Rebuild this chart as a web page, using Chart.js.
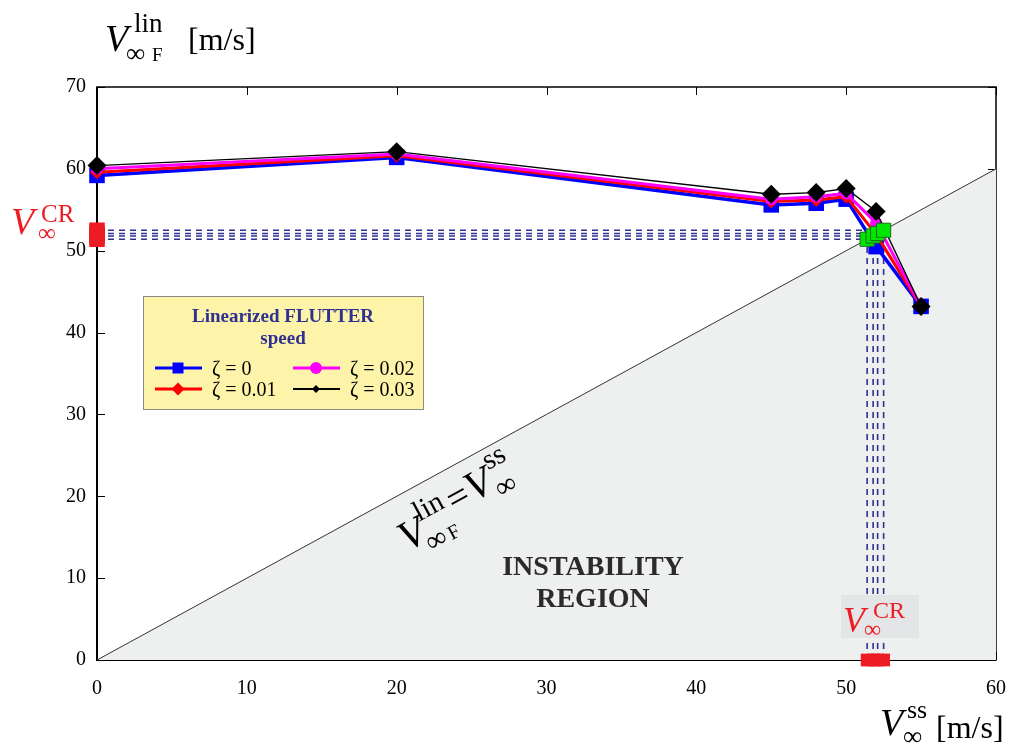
<!DOCTYPE html>
<html>
<head>
<meta charset="utf-8">
<script src="https://cdn.jsdelivr.net/npm/chart.js@4/dist/chart.umd.min.js"></script>
<style>
  html, body { margin: 0; padding: 0; background: #fff; }
  #wrap { width: 1010px; height: 751px; position: relative; }
</style>
</head>
<body>
<div id="wrap"><canvas id="chart1" width="1010" height="751"></canvas></div>
<script>
// valori
const speedSS = [0, 20, 45, 48, 50, 52, 55];
const zeta0 = [59.2, 61.4, 55.6, 55.8, 56.3, 50.5, 43.2];
const zeta1 = [59.6, 61.6, 56.0, 56.2, 56.6, 52.0, 43.2];
const zeta2 = [60.0, 61.8, 56.3, 56.6, 57.0, 53.4, 43.2];
const zeta3 = [60.4, 62.1, 56.9, 57.1, 57.6, 54.8, 43.2];
const vCrit = [51.4, 51.8, 52.1, 52.5];
const zetaLabels = ['ζ = 0', 'ζ = 0.01', 'ζ = 0.02', 'ζ = 0.03'];
const xTicks = [0, 10, 20, 30, 40, 50, 60];
const yTicks = [0, 10, 20, 30, 40, 50, 60, 70];

const SERIF = "'Liberation Serif', 'DejaVu Serif', serif";
const RED = '#ed1c24';
const NAVY = '#2e3192';

function pts(ys) {
    return speedSS.map((x, i) => ({ x: x, y: ys[i] }));
}

function curve(label, ys, color, width, style, radius, order) {
    return {
        label: label,
        data: pts(ys),
        borderColor: color,
        backgroundColor: color,
        borderWidth: width,
        pointStyle: style,
        pointRadius: radius,
        pointBorderWidth: 0,
        pointBackgroundColor: color,
        clip: false,
        order: order
    };
}

const datasets = [];

// regione di instabilita (sotto la bisettrice)
datasets.push({
    label: 'diag',
    data: [{ x: 0, y: 0 }, { x: 60, y: 60 }],
    borderColor: '#333',
    borderWidth: 1,
    backgroundColor: '#eeefef',
    fill: 'origin',
    pointRadius: 0,
    order: 20
});

// linee tratteggiate verso gli assi
vCrit.forEach(c => {
    datasets.push({
        label: 'h' + c,
        data: [{ x: 0, y: c }, { x: c, y: c }],
        borderColor: NAVY, borderWidth: 1.6, borderDash: [6, 5],
        pointRadius: 0, order: 10
    });
    datasets.push({
        label: 'v' + c,
        data: [{ x: c, y: 0 }, { x: c, y: c }],
        borderColor: NAVY, borderWidth: 1.6, borderDash: [6, 5],
        pointRadius: 0, order: 10
    });
});

datasets.push(curve(zetaLabels[0], zeta0, '#0000ff', 3.5, 'rect', 11, 4));
datasets.push(curve(zetaLabels[1], zeta1, '#ff0000', 3, 'rectRot', 7, 3));
datasets.push(curve(zetaLabels[2], zeta2, '#ff00ff', 3, 'circle', 6, 2));
datasets.push(curve(zetaLabels[3], zeta3, '#000000', 1.3, 'rectRot', 9.5, 1));

// punti critici sulla bisettrice
datasets.push({
    label: 'crit',
    data: vCrit.map(c => ({ x: c, y: c })),
    showLine: false,
    pointStyle: 'rect', pointRadius: 10,
    pointBackgroundColor: '#00e600', pointBorderColor: '#1d6b1d', pointBorderWidth: 1,
    clip: false, order: 0
});
// quadrati rossi sugli assi
datasets.push({
    label: 'critY',
    data: vCrit.map(c => ({ x: 0, y: c })),
    showLine: false,
    pointStyle: 'rect', pointRadius: 11, pointBorderWidth: 0,
    pointBackgroundColor: RED, clip: false, order: 0
});
datasets.push({
    label: 'critX',
    data: vCrit.map(c => ({ x: c, y: 0 })),
    showLine: false,
    pointStyle: 'rect', pointRadius: 9, pointBorderWidth: 0,
    pointBackgroundColor: RED, clip: false, order: 0
});

function txt(ctx, s, x, y, size, color, style) {
    ctx.font = (style || '') + ' ' + size + 'px ' + SERIF;
    ctx.fillStyle = color || '#000';
    ctx.fillText(s, x, y);
}

const framePlugin = {
    id: 'frame',
    beforeDatasetsDraw(chart) {
        const ctx = chart.ctx, a = chart.chartArea;
        const xs = chart.scales.x, ys = chart.scales.y;
        ctx.save();
        ctx.strokeStyle = '#000';
        ctx.lineWidth = 1;
        ctx.beginPath();
        xTicks.forEach(t => {
            const px = Math.round(xs.getPixelForValue(t)) + 0.5;
            ctx.moveTo(px, a.bottom); ctx.lineTo(px, a.bottom - 8);
            ctx.moveTo(px, a.top); ctx.lineTo(px, a.top + 8);
        });
        yTicks.forEach(t => {
            const py = Math.round(ys.getPixelForValue(t)) + 0.5;
            ctx.moveTo(a.left, py); ctx.lineTo(a.left + 8, py);
            ctx.moveTo(a.right, py); ctx.lineTo(a.right - 8, py);
        });
        ctx.stroke();
        ctx.lineWidth = 1.5;
        ctx.strokeRect(a.left, a.top, a.right - a.left, a.bottom - a.top);
        ctx.lineWidth = 2;
        ctx.beginPath();
        ctx.moveTo(a.left, a.top); ctx.lineTo(a.left, a.bottom); ctx.lineTo(a.right, a.bottom);
        ctx.stroke();
        ctx.restore();
    },
    afterDatasetsDraw(chart) {
        const ctx = chart.ctx;
        const xs = chart.scales.x, ys = chart.scales.y;
        ctx.save();
        ctx.textAlign = 'left';
        ctx.textBaseline = 'alphabetic';

        // titoli degli assi
        txt(ctx, 'V', 105, 51, 38, '#000', 'italic');
        txt(ctx, 'lin', 134, 32, 27);
        txt(ctx, '∞', 126, 62, 27);
        txt(ctx, 'F', 152, 61, 19);
        txt(ctx, '[m/s]', 188, 50, 32);

        txt(ctx, 'V', 880, 735, 38, '#000', 'italic');
        txt(ctx, 'ss', 907, 718, 26);
        txt(ctx, '∞', 903, 745, 27);
        txt(ctx, '[m/s]', 936, 738, 32);

        // etichetta critica a sinistra
        txt(ctx, 'V', 11, 234, 38, RED, 'italic');
        txt(ctx, 'CR', 41, 222, 25, RED);
        txt(ctx, '∞', 38, 241, 25, RED);

        // etichetta critica in basso
        ctx.fillStyle = '#e4e5e6';
        ctx.fillRect(841, 595, 78, 43);
        txt(ctx, 'V', 843, 632, 36, RED, 'italic');
        txt(ctx, 'CR', 873, 618, 24, RED);
        txt(ctx, '∞', 864, 637, 24, RED);

        // testo regione
        ctx.textAlign = 'center';
        txt(ctx, 'INSTABILITY', 593, 575, 28, '#2b2b2b', 'bold');
        txt(ctx, 'REGION', 593, 607, 28, '#2b2b2b', 'bold');

        // etichetta lungo la bisettrice
        const x0 = xs.getPixelForValue(0), y0 = ys.getPixelForValue(0);
        const x1 = xs.getPixelForValue(60), y1 = ys.getPixelForValue(60);
        const ang = Math.atan2(y1 - y0, x1 - x0);
        ctx.translate(x0, y0);
        ctx.rotate(ang);
        ctx.textAlign = 'left';
        txt(ctx, 'V', 324, 54, 42, '#000', 'italic');
        txt(ctx, 'lin', 349, 33, 29);
        txt(ctx, '∞', 345, 66, 29);
        txt(ctx, 'F', 369, 65, 20);
        txt(ctx, '=', 384, 42, 38);
        txt(ctx, 'V', 406, 42, 42, '#000', 'italic');
        txt(ctx, 'ss', 434, 21, 29);
        txt(ctx, '∞', 432, 52, 29);
        ctx.restore();
    },
    afterDraw(chart) {
        const ctx = chart.ctx;
        ctx.save();
        // legenda
        ctx.fillStyle = '#fef4a9';
        ctx.fillRect(143, 296, 280, 113);
        ctx.strokeStyle = '#8a8a8a';
        ctx.lineWidth = 1;
        ctx.strokeRect(143.5, 296.5, 280, 113);
        ctx.textAlign = 'center';
        txt(ctx, 'Linearized FLUTTER', 283, 322, 19, NAVY, 'bold');
        txt(ctx, 'speed', 283, 344, 19, NAVY, 'bold');

        const items = [
            { c: '#0000ff', s: 'rect', x: 155, y: 368 },
            { c: '#ff0000', s: 'rectRot', x: 155, y: 389 },
            { c: '#ff00ff', s: 'circle', x: 293, y: 368 },
            { c: '#000000', s: 'rectRot-small', x: 293, y: 389 }
        ];
        ctx.textAlign = 'left';
        items.forEach((it, i) => {
            ctx.strokeStyle = it.c;
            ctx.lineWidth = i === 3 ? 2 : 3;
            ctx.beginPath();
            ctx.moveTo(it.x, it.y); ctx.lineTo(it.x + 47, it.y);
            ctx.stroke();
            const mx = it.x + 23, my = it.y;
            ctx.fillStyle = it.c;
            ctx.beginPath();
            if (it.s === 'rect') {
                ctx.rect(mx - 5.5, my - 5.5, 11, 11);
            } else if (it.s === 'circle') {
                ctx.arc(mx, my, 6, 0, Math.PI * 2);
            } else {
                const r = it.s === 'rectRot' ? 6.5 : 4;
                ctx.moveTo(mx, my - r); ctx.lineTo(mx + r, my);
                ctx.lineTo(mx, my + r); ctx.lineTo(mx - r, my);
                ctx.closePath();
            }
            ctx.fill();
            txt(ctx, zetaLabels[i], it.x + 57, it.y + 7, 20, '#000');
        });
        ctx.restore();
    }
};

const config1 = {
    type: 'line',
    data: { datasets: datasets },
    options: {
        responsive: false,
        animation: false,
        layout: { padding: { left: 0, right: 14, top: 87, bottom: 0 } },
        plugins: {
            legend: { display: false },
            tooltip: { enabled: false }
        },
        scales: {
            x: {
                type: 'linear', min: 0, max: 60,
                grid: { display: false, drawTicks: false },
                border: { display: false },
                afterFit: s => { s.height = 91; s.paddingRight = 0; s.paddingLeft = 0; },
                afterBuildTicks: s => { s.ticks = xTicks.map(v => ({ value: v })); },
                ticks: { color: '#000', padding: 17, font: { family: SERIF, size: 20 } }
            },
            y: {
                type: 'linear', min: 0, max: 70,
                grid: { display: false, drawTicks: false },
                border: { display: false },
                afterFit: s => { s.width = 97; s.paddingTop = 0; s.paddingBottom = 0; },
                afterBuildTicks: s => { s.ticks = yTicks.map(v => ({ value: v })); },
                ticks: { color: '#000', padding: 11, font: { family: SERIF, size: 20 } }
            }
        }
    },
    plugins: [framePlugin]
};

new Chart(document.getElementById('chart1'), config1);
</script>
</body>
</html>
